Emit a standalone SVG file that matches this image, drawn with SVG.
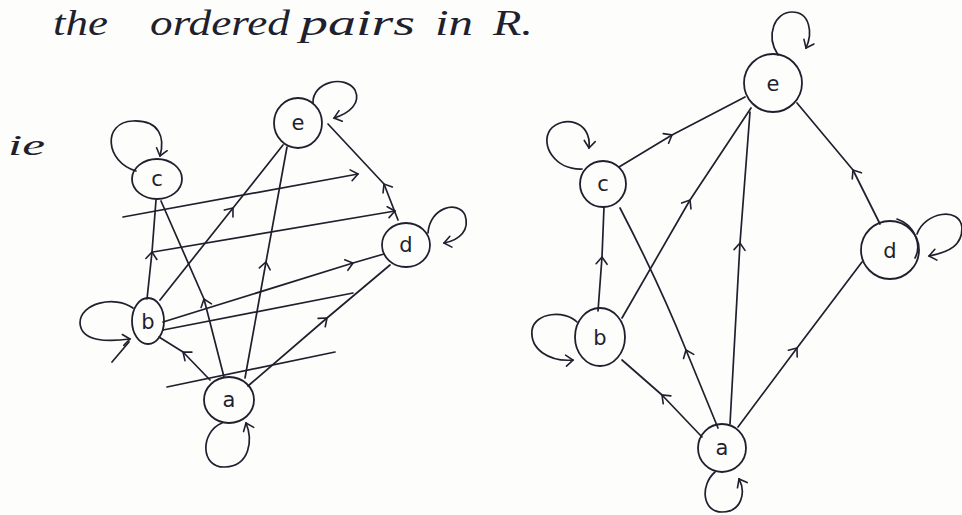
<svg xmlns="http://www.w3.org/2000/svg" width="962" height="515" viewBox="0 0 962 515">
<defs>
<style>
.ln{fill:none;stroke:#1f1f2e;stroke-width:1.7;stroke-linecap:round;stroke-linejoin:round}
.nd{fill:none;stroke:#1f1f2e;stroke-width:1.8}
.lb{font-family:"DejaVu Sans","Liberation Sans",sans-serif;font-size:21px;fill:#1f1f2e;text-anchor:middle}
.hw{font-family:"Liberation Serif",serif;font-style:italic;fill:#1f1f2e}
.m{marker-mid:url(#chev)}
.e{marker-end:url(#chev)}
</style>
<marker id="chev" viewBox="-10 -8 12 16" markerWidth="12" markerHeight="16" refX="0" refY="0" orient="auto" markerUnits="userSpaceOnUse">
<path d="M-7,-5.5 L0,0 L-7,5.5" fill="none" stroke="#1f1f2e" stroke-width="1.6" stroke-linecap="round"/>
</marker>
</defs>
<rect width="962" height="515" fill="#fdfdfb"/>
<text class="hw" font-size="36" y="35"><tspan x="53" textLength="55" lengthAdjust="spacingAndGlyphs">the</tspan><tspan x="150" textLength="140" lengthAdjust="spacingAndGlyphs">ordered</tspan><tspan x="300" textLength="115" lengthAdjust="spacingAndGlyphs">pairs</tspan><tspan x="435" textLength="38" lengthAdjust="spacingAndGlyphs">in</tspan><tspan x="493" textLength="40" lengthAdjust="spacingAndGlyphs">R.</tspan></text>
<text class="hw" font-size="30" x="8" y="155" textLength="37" lengthAdjust="spacingAndGlyphs">ie</text>

<g id="connectors">
<!-- left diagram -->
<path class="ln m" d="M147,299 L152,252 L156,200"/>
<path class="ln m" d="M224,377 L204,299 L161,201"/>
<path class="ln m" d="M160,300 L233,208 L283,145"/>
<path class="ln m" d="M245,378 L266,262 L287,147"/>
<path class="ln m" d="M398,220 L384,184 L328,124"/>
<path class="ln e" d="M123,217 L358,174"/>
<path class="ln e" d="M153,252 L395,211"/>
<path class="ln m" d="M163,322 L353,263 L384,254"/>
<path class="ln" d="M163,330 L353,293"/>
<path class="ln m" d="M248,386 L327,318 L390,265"/>
<path class="ln m" d="M210,380 L183,352 L159,337"/>
<path class="ln" d="M167,387 L335,352"/>
<!-- left loops -->
<path class="ln e" d="M136,171 C105,162 102,122 133,121 C160,120 165,138 160,156"/>
<path class="ln e" d="M313,103 C312,82 345,74 355,90 C361,103 350,113 334,118"/>
<path class="ln e" d="M428,233 C430,207 458,200 465,215 C470,230 460,240 444,243"/>
<path class="ln e" d="M133,308 C115,295 80,303 80,323 C81,342 108,342 130,339"/>
<path class="ln" d="M112,362 L129,342"/>
<path class="ln e" d="M222,423 C200,432 200,468 225,467 C250,466 253,440 246,423"/>
<!-- right diagram -->
<path class="ln m" d="M619,167 L672,135 L745,97"/>
<path class="ln m" d="M622,318 L690,200 L751,108"/>
<path class="ln m" d="M718,428 L686,350 Q660,285 620,208"/>
<path class="ln m" d="M730,424 L740,243 L750,112"/>
<path class="ln m" d="M702,437 L662,395 L622,360"/>
<path class="ln m" d="M738,427 L797,348 L862,262"/>
<path class="ln m" d="M880,224 L853,170 L797,103"/>
<path class="ln m" d="M598,311 L602,257 L604,207"/>
<!-- right loops -->
<path class="ln e" d="M778,55 C765,35 775,12 792,12 C810,12 813,33 806,48"/>
<path class="ln e" d="M582,169 C555,170 540,145 550,130 C562,115 592,120 589,148"/>
<path class="ln e" d="M917,234 C925,212 960,206 962,228 C962,245 950,252 929,256"/>
<path class="ln e" d="M577,322 C565,310 535,312 532,330 C530,350 550,362 573,360"/>
<path class="ln e" d="M715,472 C700,485 702,512 722,512 C742,512 746,492 739,479"/>
<path class="ln" d="M897,219 C915,225 922,245 915,258"/>
</g>

<g id="L-c"><ellipse class="nd" cx="157" cy="179" rx="25" ry="20"/><text class="lb" x="157" y="186">c</text></g>
<g id="L-e"><ellipse class="nd" cx="298" cy="123" rx="24" ry="25"/><text class="lb" x="298" y="130">e</text></g>
<g id="L-d"><ellipse class="nd" cx="406" cy="245" rx="24" ry="22"/><text class="lb" x="406" y="252">d</text></g>
<g id="L-b"><ellipse class="nd" cx="148" cy="321" rx="16" ry="23"/><text class="lb" x="148" y="329">b</text></g>
<g id="L-a"><ellipse class="nd" cx="229" cy="400" rx="25" ry="23"/><text class="lb" x="229" y="407">a</text></g>

<g id="R-e"><circle class="nd" cx="773" cy="83" r="29"/><text class="lb" x="773" y="91">e</text></g>
<g id="R-c"><circle class="nd" cx="603" cy="184" r="23"/><text class="lb" x="603" y="191">c</text></g>
<g id="R-d"><circle class="nd" cx="890" cy="250" r="29"/><text class="lb" x="890" y="258">d</text></g>
<g id="R-b"><ellipse class="nd" cx="600" cy="337" rx="25" ry="29"/><text class="lb" x="600" y="345">b</text></g>
<g id="R-a"><circle class="nd" cx="722" cy="448" r="24"/><text class="lb" x="722" y="455">a</text></g>
</svg>
